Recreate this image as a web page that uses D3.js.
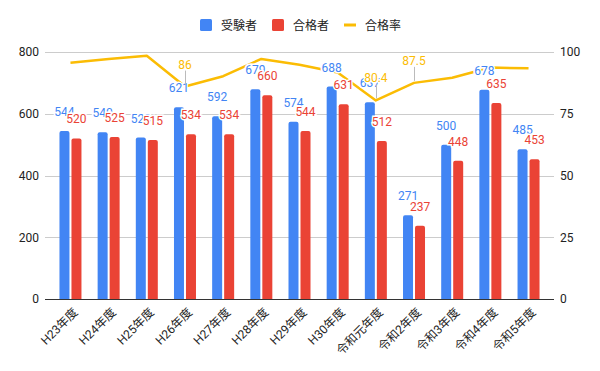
<!DOCTYPE html>
<html>
<head>
<meta charset="utf-8">
<script src="https://cdn.jsdelivr.net/npm/d3@7"></script>
<style>
  body { margin: 0; background: #fff; }
  svg { font-family: Roboto, "Noto Sans CJK JP", sans-serif; }
</style>
</head>
<body>
<svg id="chart"></svg>
<script>
// data
const years = ["H23年度", "H24年度", "H25年度", "H26年度", "H27年度", "H28年度", "H29年度",
    "H30年度", "令和元年度", "令和2年度", "令和3年度", "令和4年度", "令和5年度"];
const examinees = [544, 540, 523, 621, 592, 679, 574, 688, 637, 271, 500, 678, 485];
const passers = [520, 525, 515, 534, 534, 660, 544, 631, 512, 237, 448, 635, 453];
const passRate = [95.6, 97.2, 98.5, 86, 90.2, 97.2, 94.8, 91.7, 80.4, 87.5, 89.6, 93.7, 93.4];
// only these rate points carry a label in the picture
const rateLabels = [null, null, null, "86", null, null, null, null, "80.4", "87.5", null, null, null];
const leftTicks = [0, 200, 400, 600, 800];
const rightTicks = [0, 25, 50, 75, 100];
const seriesNames = ["受験者", "合格者", "合格率"];

const colors = { blue: "#4285f4", red: "#ea4335", yellow: "#fbbc04" };

const width = 600, height = 371;
const plot = { left: 45, right: 554, top: 52, bottom: 299 };

const svg = d3.select("#chart")
    .attr("width", width)
    .attr("height", height);

const x = d3.scaleBand()
    .domain(years)
    .range([plot.left, plot.right])
    .paddingInner(0)
    .paddingOuter(0.167);

const xSub = d3.scaleBand()
    .domain(seriesNames.slice(0, 2))
    .range([0, 22])
    .paddingInner(1 / 6);

const yLeft = d3.scaleLinear().domain([0, 800]).range([plot.bottom, plot.top]);
const yRight = d3.scaleLinear().domain([0, 100]).range([plot.bottom, plot.top]);

// grid
svg.append("g")
    .selectAll("line")
    .data(leftTicks.filter(d => d > 0))
    .join("line")
    .attr("x1", plot.left)
    .attr("x2", plot.right)
    .attr("y1", d => Math.round(yLeft(d)) + 0.5)
    .attr("y2", d => Math.round(yLeft(d)) + 0.5)
    .attr("stroke", "#cccccc");

// left axis
const leftAxis = svg.append("g")
    .attr("transform", `translate(${plot.left - 6},0)`)
    .call(d3.axisLeft(yLeft).tickValues(leftTicks).tickSize(0).tickPadding(0));
leftAxis.select(".domain").remove();

// right axis
const rightAxis = svg.append("g")
    .attr("transform", `translate(${plot.right + 6},0)`)
    .call(d3.axisRight(yRight).tickValues(rightTicks).tickSize(0).tickPadding(0));
rightAxis.select(".domain").remove();

svg.selectAll(".tick text")
    .attr("font-size", 12)
    .attr("fill", "#222")
    .attr("font-family", "Roboto, sans-serif");

// bars with rounded tops
const barPath = (x0, w, yTop, yBase, r) => {
    r = Math.min(r, yBase - yTop);
    return `M${x0},${yBase}V${yTop + r}Q${x0},${yTop} ${x0 + r},${yTop}` +
        `H${x0 + w - r}Q${x0 + w},${yTop} ${x0 + w},${yTop + r}V${yBase}Z`;
};

const groupX = (i) => x(years[i]) + x.bandwidth() / 2 - 11;

const barSeries = [
    { name: seriesNames[0], values: examinees, color: colors.blue },
    { name: seriesNames[1], values: passers, color: colors.red },
];

barSeries.forEach((s) => {
    svg.append("g")
        .selectAll("path")
        .data(s.values)
        .join("path")
        .attr("d", (d, i) => barPath(groupX(i) + xSub(s.name), xSub.bandwidth(), yLeft(d), yLeft(0), 2))
        .attr("fill", s.color);
});

// baseline
svg.append("line")
    .attr("x1", plot.left)
    .attr("x2", plot.right)
    .attr("y1", Math.round(yLeft(0)) + 0.5)
    .attr("y2", Math.round(yLeft(0)) + 0.5)
    .attr("stroke", "#333");

// pass rate line
const rateLine = d3.line()
    .x((d, i) => x(years[i]) + x.bandwidth() / 2)
    .y(d => yRight(d));

svg.append("path")
    .datum(passRate)
    .attr("d", rateLine)
    .attr("fill", "none")
    .attr("stroke", colors.yellow)
    .attr("stroke-width", 2.5)
    .attr("stroke-linejoin", "round");

// bar labels
barSeries.forEach((s) => {
    svg.append("g")
        .selectAll("text")
        .data(s.values)
        .join("text")
        .attr("x", (d, i) => groupX(i) + xSub(s.name) + xSub.bandwidth() / 2)
        .attr("y", d => yLeft(d) - 15)
        .attr("text-anchor", "middle")
        .attr("font-size", 12)
        .attr("fill", s.color)
        .attr("stroke", "#fff")
        .attr("stroke-width", 3)
        .attr("paint-order", "stroke")
        .text(d => d);
});

// rate labels with stems
const rateLabelData = passRate.map((v, i) => ({ v, i, label: rateLabels[i] })).filter(d => d.label);
const rateLabelG = svg.append("g")
    .selectAll("g")
    .data(rateLabelData)
    .join("g");

rateLabelG.append("line")
    .attr("x1", d => Math.round(x(years[d.i]) + x.bandwidth() / 2) + 0.5)
    .attr("x2", d => Math.round(x(years[d.i]) + x.bandwidth() / 2) + 0.5)
    .attr("y1", d => yRight(d.v) - 18 + 2)
    .attr("y2", d => yRight(d.v) - 2)
    .attr("stroke", "#bbb");

rateLabelG.append("text")
    .attr("x", d => x(years[d.i]) + x.bandwidth() / 2)
    .attr("y", d => yRight(d.v) - 18)
    .attr("text-anchor", "middle")
    .attr("font-size", 12)
    .attr("fill", colors.yellow)
    .attr("stroke", "#fff")
    .attr("stroke-width", 3)
    .attr("paint-order", "stroke")
    .text(d => d.label);

// x labels, rotated
svg.append("g")
    .selectAll("text")
    .data(years)
    .join("text")
    .attr("transform", d => `translate(${x(d) + x.bandwidth() / 2 + 8},${plot.bottom + 14}) rotate(-45)`)
    .attr("text-anchor", "end")
    .attr("font-size", 12)
    .attr("fill", "#222")
    .text(d => d);

// legend
const legend = svg.append("g");
const legendItems = [
    { name: seriesNames[0], color: colors.blue, type: "rect", x: 200 },
    { name: seriesNames[1], color: colors.red, type: "rect", x: 272 },
    { name: seriesNames[2], color: colors.yellow, type: "line", x: 344 },
];
legendItems.forEach((d) => {
    if (d.type === "rect") {
        legend.append("rect")
            .attr("x", d.x).attr("y", 19)
            .attr("width", 12).attr("height", 12)
            .attr("rx", 1.5)
            .attr("fill", d.color);
    } else {
        legend.append("line")
            .attr("x1", d.x).attr("x2", d.x + 12)
            .attr("y1", 25).attr("y2", 25)
            .attr("stroke", d.color)
            .attr("stroke-width", 3);
    }
    legend.append("text")
        .attr("x", d.x + 21)
        .attr("y", 29.5)
        .attr("font-size", 12)
        .attr("fill", "#222")
        .text(d.name);
});
</script>
</body>
</html>
